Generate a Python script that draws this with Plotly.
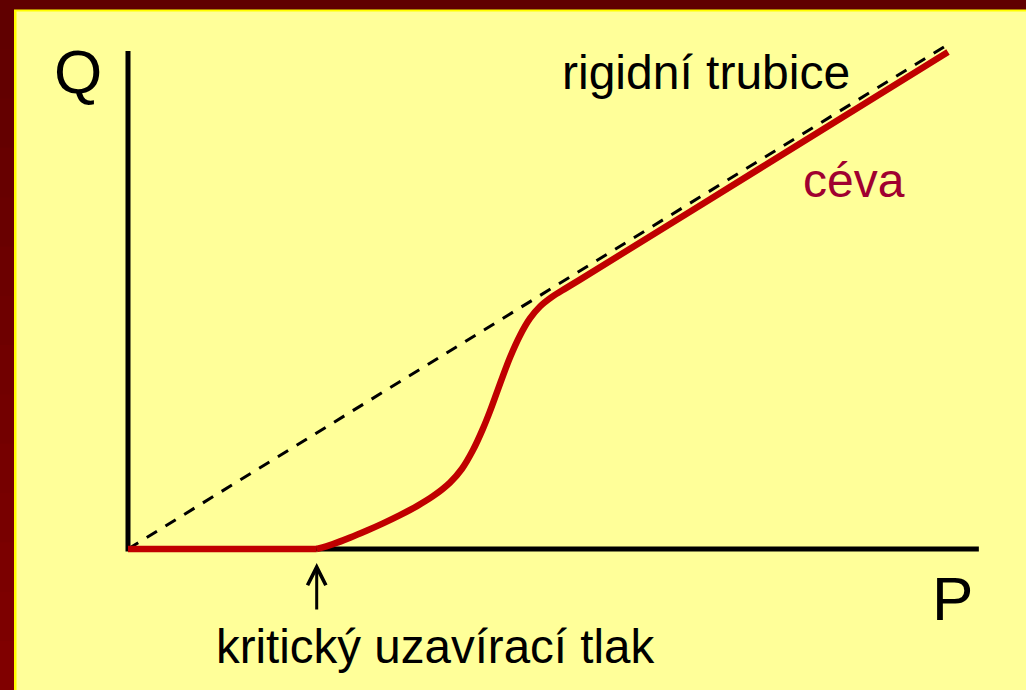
import plotly.graph_objects as go

# ---------------- data ----------------
# pressure P / flow Q in arbitrary units
P_CRIT = 22.2  # critical closing pressure

# vessel ("céva") curve: flat part, then the S-shaped rise and the straight part
vessel_flat_P = [0.0, P_CRIT]
vessel_flat_Q = [0.0, 0.0]
vessel_P = [P_CRIT, 24.12, 26.12, 28.12, 30.0, 32.0, 34.0, 35.88, 37.88, 39.29, 40.59,
            41.76, 42.59, 43.41, 44.12, 44.94, 46.12, 47.29, 48.47, 49.88, 51.53, 53.18,
            74.35, 96.47]
vessel_Q = [0.0, 0.58, 1.34, 2.18, 3.02, 3.99, 5.05, 6.21, 7.81, 9.44, 11.64,
            14.16, 16.22, 18.45, 20.39, 22.53, 25.12, 27.12, 28.53, 29.66, 30.69, 31.69,
            44.78, 58.47]

# rigid tube ("rigidní trubice"): straight line through origin
rigid_P = [0.0, 96.7]
rigid_Q = [0.0, 59.5]

# axes extents
axis_P = [0.0, 0.0, 100.1]
axis_Q = [58.6, 0.0, 0.0]

# arrow under the critical pressure
arrow_tip_Q = -1.65
arrow_tail_Q = -7.3

# texts
label_Q = "Q"
label_P = "P"
label_rigid = "rigidní trubice"
label_vessel = "céva"
label_crit = "kritický uzavírací tlak"

# ---------------- layout helpers ----------------
W, H = 1026, 690
PX = 8.5            # pixels per data unit
OX, OY = 128, 549   # pixel position of the origin

def fx(px):
    return px / W

def fy(py):
    return 1 - py / H

FONT = "Liberation Sans, Arial, sans-serif"
RED = "#C00000"
TEXT_RED = "#A00030"
BG = "#FFFF99"

fig = go.Figure()

fig.add_trace(go.Scatter(x=axis_P, y=axis_Q, mode="lines",
                         line=dict(color="black", width=5), hoverinfo="skip"))
fig.add_trace(go.Scatter(x=rigid_P, y=rigid_Q, mode="lines",
                         line=dict(color="black", width=3, dash="12px,10px"), hoverinfo="skip"))
fig.add_trace(go.Scatter(x=vessel_flat_P, y=vessel_flat_Q, mode="lines",
                         line=dict(color=RED, width=6.5), hoverinfo="skip"))
fig.add_trace(go.Scatter(x=vessel_P, y=vessel_Q, mode="lines",
                         line=dict(color=RED, width=6.5, shape="spline", smoothing=1.0),
                         hoverinfo="skip"))

# frame: dark red border with thin yellow line (top and left)
shapes = [
    dict(type="rect", xref="paper", yref="paper", x0=0, x1=fx(16.5), y0=0, y1=1,
         fillcolor="#FFFF00", line=dict(width=0), layer="below"),
    dict(type="rect", xref="paper", yref="paper", x0=0, x1=1, y0=fy(11.5), y1=1,
         fillcolor="#FFFF00", line=dict(width=0), layer="below"),
]
n = 14
for i in range(n):
    t = i / (n - 1)
    r = int(0x60 + (0x80 - 0x60) * t)
    # each strip runs to the bottom so consecutive strips overlap (no seams)
    shapes.append(dict(type="rect", xref="paper", yref="paper",
                       x0=0, x1=fx(14), y0=0, y1=fy(H * i / n),
                       fillcolor="#%02X0000" % r, line=dict(width=0), layer="below"))
shapes.append(dict(type="rect", xref="paper", yref="paper", x0=0, x1=1, y0=fy(9.5), y1=1,
                   fillcolor="#600000", line=dict(width=0), layer="below"))

annotations = [
    dict(text=label_Q, xref="paper", yref="paper", x=fx(78), y=fy(71),
         xanchor="center", yanchor="middle", showarrow=False,
         font=dict(family=FONT, size=62, color="black")),
    dict(text=label_P, xref="paper", yref="paper", x=fx(952), y=fy(598),
         xanchor="center", yanchor="middle", showarrow=False,
         font=dict(family=FONT, size=62, color="black")),
    dict(text=label_rigid, xref="paper", yref="paper", x=fx(560), y=fy(73),
         xanchor="left", yanchor="middle", showarrow=False,
         font=dict(family=FONT, size=48, color="black")),
    dict(text=label_vessel, xref="paper", yref="paper", x=fx(801), y=fy(180),
         xanchor="left", yanchor="middle", showarrow=False,
         font=dict(family=FONT, size=48, color=TEXT_RED)),
    dict(text=label_crit, xref="paper", yref="paper", x=fx(214), y=fy(646),
         xanchor="left", yanchor="middle", showarrow=False,
         font=dict(family=FONT, size=47.5, color="black")),
    dict(text="", x=P_CRIT, y=arrow_tip_Q, ax=P_CRIT, ay=arrow_tail_Q,
         xref="x", yref="y", axref="x", ayref="y", showarrow=True,
         arrowhead=5, arrowwidth=3, arrowsize=1.2, arrowcolor="black"),
]

fig.update_layout(
    width=W, height=H,
    margin=dict(l=0, r=0, t=0, b=0),
    paper_bgcolor=BG, plot_bgcolor=BG,
    showlegend=False,
    xaxis=dict(range=[-OX / PX, (W - OX) / PX], visible=False, fixedrange=True),
    yaxis=dict(range=[(OY - H) / PX, OY / PX], visible=False, fixedrange=True),
    shapes=shapes,
    annotations=annotations,
)

fig.write_html("out.html", config=dict(displayModeBar=False),
               post_script="document.body.style.margin='0';")
